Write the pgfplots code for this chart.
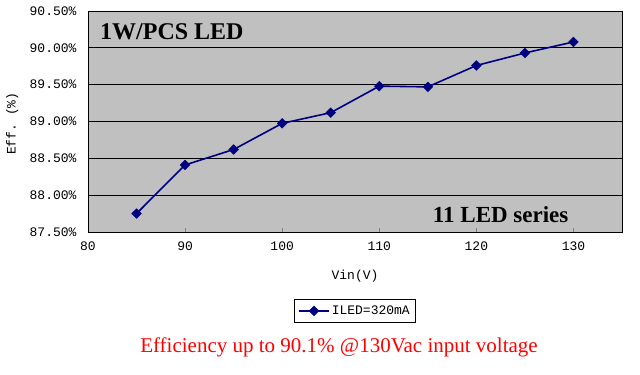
\documentclass[border=0pt]{standalone}
\usepackage{pgfplots}
\pgfplotsset{compat=1.18}
\usepackage{fontspec}
\setmainfont{Liberation Serif}
\setmonofont{Liberation Mono}
\usetikzlibrary{calc}
\definecolor{plotbg}{RGB}{192,192,192}
\definecolor{navyline}{RGB}{0,0,128}
\begin{document}
\begin{tikzpicture}
\begin{axis}[name=ax, scale only axis, width=534pt, height=221pt,
 xmin=80, xmax=135, ymin=87.5, ymax=90.5,
 xtick={80,90,...,130}, ytick={87.5,88,...,90.5},
 axis background/.style={fill=plotbg},
 ymajorgrids, major grid style={black, line width=0.8pt},
 axis line style={black, line width=0.8pt},
 xtick align=inside, major tick length=4pt, ytick style={draw=none},
 xtick pos=bottom, ytick pos=left,
 tick label style={font=\ttfamily\fontsize{13}{13}\selectfont},
 /pgf/number format/assume math mode=true,
 yticklabel={\pgfmathprintnumber[fixed,fixed zerofill,precision=2]{\tick}\%},
 xticklabel style={yshift=-6pt},
 yticklabel style={xshift=-8pt},
 xlabel={Vin(V)}, ylabel={Eff. (\%)},
 label style={font=\ttfamily\fontsize{13}{13}\selectfont},
 xlabel style={at={(0.5,-0.2)}, anchor=center},
 ylabel style={at={(-0.142,0.49)}, anchor=center},
 legend style={at={(0.5,-0.357)}, anchor=center, draw=black, fill=white,
   font=\ttfamily\fontsize{13}{13}\selectfont, inner xsep=4pt, inner ysep=4pt, line width=0.8pt},
 legend image code/.code={\draw[mark repeat=2,mark phase=2,#1] plot coordinates {(0pt,0pt) (15pt,0pt) (30pt,0pt)};},
 clip=false,
]
\addplot[color=navyline, line width=1.6pt, mark=square*, mark size=3.4pt,
  mark options={fill=navyline, draw=navyline, line width=0.5pt, rotate=45}]
 coordinates {(85,87.75) (90,88.41) (95,88.62) (100,88.975) (105,89.12)
 (110,89.48) (115,89.47) (120,89.76) (125,89.93) (130,90.08)};
\addlegendentry{ILED=320mA}
\node[anchor=west, font=\bfseries\fontsize{24}{24}\selectfont, inner sep=0pt] at (rel axis cs:0.0225,0.905) {1W/PCS LED};
\node[anchor=east, font=\bfseries\fontsize{23}{23}\selectfont, inner sep=0pt] at (rel axis cs:0.90,0.077) {11 LED series};
\end{axis}
\node[text=red, font=\fontsize{21}{21}\selectfont, inner sep=0pt] at ($(ax.south west)+(251pt,-115pt)$) {Efficiency up to 90.1\% @130Vac input voltage};
\pgfresetboundingbox
\path ($(ax.south west)+(-88pt,-142pt)$) rectangle ($(ax.north east)+(18pt,11pt)$);
\end{tikzpicture}
\end{document}
